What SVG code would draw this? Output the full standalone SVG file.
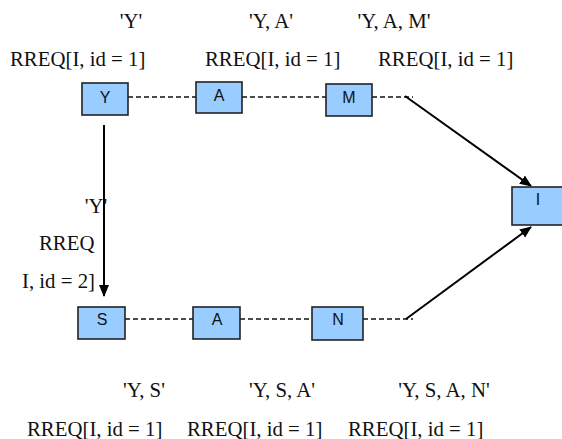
<svg xmlns="http://www.w3.org/2000/svg" width="562" height="439" viewBox="0 0 562 439">
<style>
.box{fill:#99ccff;stroke:#222;stroke-width:1.6}
.bl{font-family:"Liberation Sans",Arial,sans-serif;font-size:16px;fill:#111;text-anchor:middle}
.t{font-family:"Liberation Serif","Times New Roman",serif;font-size:20.8px;fill:#111}
.m{text-anchor:middle}
.dash{stroke:#111;stroke-width:1.5;stroke-dasharray:5,3;fill:none}
.arr{stroke:#000;stroke-width:2;fill:none;marker-end:url(#ah)}
</style>
<defs>
<marker id="ah" markerWidth="12" markerHeight="12" refX="11" refY="6" orient="auto" markerUnits="userSpaceOnUse">
<path d="M0,1 L12,6 L0,11 Z" fill="#000"/>
</marker>
</defs>
<rect width="562" height="439" fill="#fff"/>
<g id="connectors">
<line class="dash" x1="128" y1="97" x2="196" y2="97"/>
<line class="dash" x1="242" y1="97" x2="326" y2="97"/>
<line class="dash" x1="372" y1="97" x2="413" y2="97"/>
<line class="dash" x1="125" y1="319" x2="193" y2="319"/>
<line class="dash" x1="240" y1="319" x2="312" y2="319"/>
<line class="dash" x1="363" y1="319" x2="413" y2="319"/>
<line class="arr" x1="104" y1="125" x2="104" y2="296"/>
<line class="arr" x1="405" y1="96" x2="531" y2="186"/>
<line class="arr" x1="406" y1="319" x2="531" y2="227"/>
</g>
<g id="node-Y"><rect class="box" x="82" y="83" width="46" height="32"/><text class="bl" x="105" y="103">Y</text></g>
<g id="node-A1"><rect class="box" x="196" y="82" width="46" height="31"/><text class="bl" x="219" y="101">A</text></g>
<g id="node-M"><rect class="box" x="326" y="84" width="46" height="32"/><text class="bl" x="349" y="103">M</text></g>
<g id="node-I"><rect class="box" x="512" y="187" width="52" height="38"/><text class="bl" x="538" y="205">I</text></g>
<g id="node-S"><rect class="box" x="78" y="307" width="47" height="32"/><text class="bl" x="102" y="325">S</text></g>
<g id="node-A2"><rect class="box" x="193" y="307" width="47" height="32"/><text class="bl" x="217" y="325">A</text></g>
<g id="node-N"><rect class="box" x="312" y="307" width="51" height="33"/><text class="bl" x="338" y="325">N</text></g>
<g id="labels">
<text class="t m" x="131" y="28">'Y'</text>
<text class="t m" x="271" y="28">'Y, A'</text>
<text class="t m" x="394" y="28">'Y, A, M'</text>
<text class="t" x="10" y="66">RREQ[I, id = 1]</text>
<text class="t" x="205" y="66">RREQ[I, id = 1]</text>
<text class="t" x="378" y="66">RREQ[I, id = 1]</text>
<text class="t m" x="96" y="213">'Y'</text>
<text class="t" x="39" y="250">RREQ</text>
<text class="t" x="22" y="288">I, id = 2]</text>
<text class="t m" x="144" y="397">'Y, S'</text>
<text class="t m" x="282" y="397">'Y, S, A'</text>
<text class="t m" x="444" y="397">'Y, S, A, N'</text>
<text class="t" x="27" y="436">RREQ[I, id = 1]</text>
<text class="t" x="187" y="436">RREQ[I, id = 1]</text>
<text class="t" x="348" y="436">RREQ[I, id = 1]</text>
</g>
</svg>
